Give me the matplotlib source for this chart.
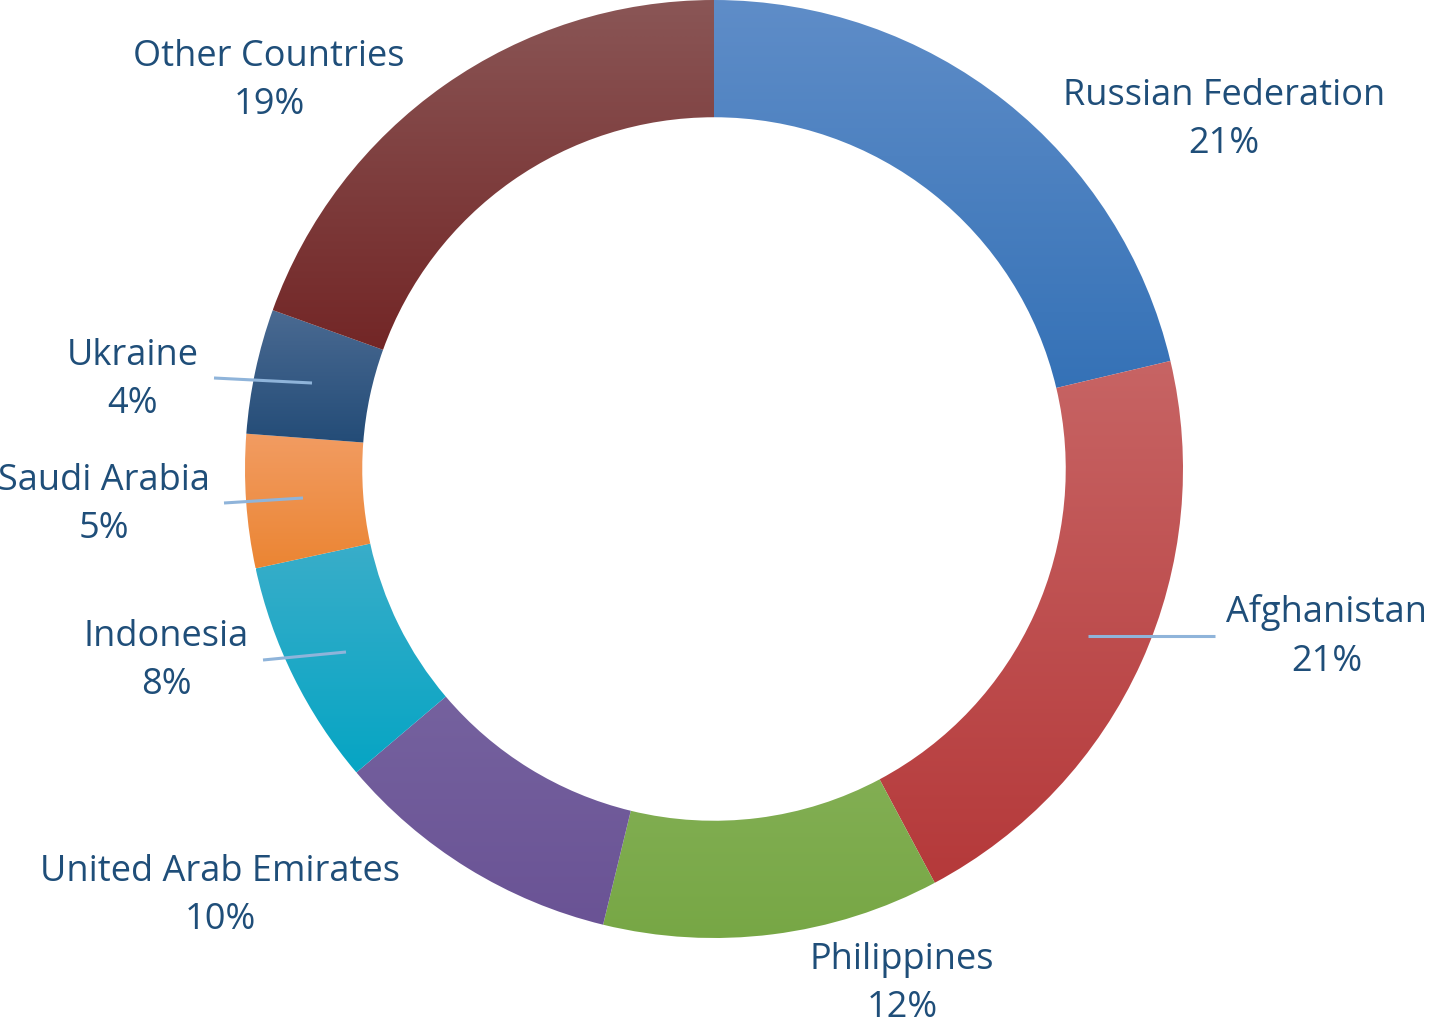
import numpy as np
import matplotlib
matplotlib.use("Agg")
import matplotlib.pyplot as plt
from matplotlib.colors import LinearSegmentedColormap

categories = ["Russian Federation", "Afghanistan", "Philippines", "United Arab Emirates",
              "Indonesia", "Saudi Arabia", "Ukraine", "Other Countries"]
values = [21.3, 20.9, 11.6, 10.0, 7.8, 4.6, 4.3, 19.5]
pct_labels = ["21%", "21%", "12%", "10%", "8%", "5%", "4%", "19%"]

top_colors = ["#5F8DC8", "#C76464", "#97BD6E", "#8070A8", "#4AB0CB", "#F29C62", "#4A6A92", "#8A5656"]
bot_colors = ["#2C6CB3", "#B5393A", "#77A745", "#6A5395", "#06A5C4", "#EB8533", "#1C4672", "#6B1616"]

text_color = "#1F4E79"
line_color = "#8FB4DA"

W, H = 1429, 1029
CX, CY, R = 714, 469, 469

fig = plt.figure(figsize=(W / 100, H / 100), dpi=100)
ax = fig.add_axes([0, 0, 1, 1])
ax.axis("off")

wedges, _ = ax.pie(values, startangle=90, counterclock=False, radius=1.0,
                   wedgeprops=dict(width=0.25, edgecolor="none", linewidth=0))

for w, ct, cb in zip(wedges, top_colors, bot_colors):
    verts = w.get_path().vertices
    x0, x1 = verts[:, 0].min(), verts[:, 0].max()
    y0, y1 = verts[:, 1].min(), verts[:, 1].max()
    cmap = LinearSegmentedColormap.from_list("g", [cb, ct])
    grad = np.linspace(0, 1, 256).reshape(-1, 1)
    im = ax.imshow(grad, extent=(x0, x1, y0, y1), origin="lower", cmap=cmap,
                   aspect="auto", interpolation="bilinear", zorder=2)
    im.set_clip_path(w)
    w.set_alpha(0)

def px(x, y):
    return ((x - CX) / R, (CY - y) / R)

label_pos = [(1224, 120), (1327, 637), (902, 984), (220, 896),
             (166, 661), (104, 505), (133, 380), (269, 81)]
for name, pct, (lx, ly) in zip(categories, pct_labels, label_pos):
    x, y = px(lx, ly)
    ax.text(x, y, f"{name}\n{pct}", ha="center", va="center", fontsize=26,
            family=["Open Sans", "DejaVu Sans"], color=text_color, linespacing=1.45, zorder=5)

leaders = [((1088, 636), (1215, 636)), ((214, 378), (312, 383)),
           ((224, 503), (303, 498)), ((263, 660), (346, 652))]
for (a, b) in leaders:
    xa, ya = px(*a)
    xb, yb = px(*b)
    ax.plot([xa, xb], [ya, yb], color=line_color, lw=2.2, zorder=4, solid_capstyle="butt")

ax.set_xlim(-CX / R, (W - CX) / R)
ax.set_ylim(-(H - CY) / R, CY / R)
ax.set_aspect("equal")

fig.savefig("out.png", dpi=100)
